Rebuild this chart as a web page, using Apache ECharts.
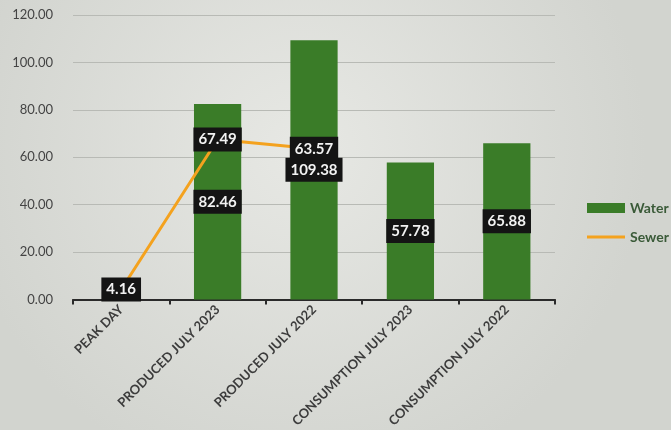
<!DOCTYPE html>
<html><head><meta charset="utf-8">
<script src="https://cdn.jsdelivr.net/npm/echarts@6/dist/echarts.min.js"></script>
<style>html,body{margin:0;padding:0;}#c{width:671px;height:430px;}</style>
</head><body><div id="c"></div>
<script>
const categories = ['PEAK DAY','PRODUCED JULY 2023','PRODUCED JULY 2022','CONSUMPTION JULY 2023','CONSUMPTION JULY 2022'];
const water = [null, 82.46, 109.38, 57.78, 65.88];
const sewer = [4.16, 67.49, 63.57, null, null];
const yTicks = [0, 20, 40, 60, 80, 100, 120];

const font = 'Lato, "Open Sans", sans-serif';
const labelBox = {
  show: true, position: 'inside', backgroundColor: '#141414', color: '#f2f2f2',
  fontFamily: font, fontWeight: 'bold', fontSize: 15, padding: [5, 5, 4, 5],
  formatter: p => p.value == null ? '' : p.value.toFixed(2)
};
const chart = echarts.init(document.getElementById('c'));
chart.setOption({
  backgroundColor: {type:'radial', x:0.45, y:0.35, r:0.8, colorStops:[{offset:0,color:'#e7e8e4'},{offset:1,color:'#d2d4cf'}]},
  animation: false,
  grid: {left: 73, right: 116, top: 15, bottom: 130},
  legend: {
    orient: 'vertical', left: 582, top: 196, itemGap: 15, itemWidth: 38, itemHeight: 10,
    textStyle: {color: '#3a5a38', fontFamily: font, fontWeight: 'bold', fontSize: 14},
    data: [{name:'Water', icon:'rect'}, {name:'Sewer', icon:'path://M0,4 L40,4 L40,7 L0,7 Z'}]
  },
  xAxis: {
    type: 'category', data: categories,
    axisLine: {lineStyle: {color: '#2a2a2a', width: 2}},
    axisTick: {show: true, alignWithLabel: false, length: 5, lineStyle: {color: '#2a2a2a', width: 2}},
    axisLabel: {rotate: 45, color: '#3c3c3c', fontFamily: font, fontWeight: 'bold', fontSize: 13, margin: 8}
  },
  yAxis: {
    type: 'value', min: 0, max: 120, interval: 20,
    axisLine: {show: false}, axisTick: {show: false},
    splitLine: {lineStyle: {color: '#b8bab5', width: 1}},
    axisLabel: {color: '#444', fontFamily: font, fontSize: 13, margin: 20, formatter: v => yTicks.includes(v) ? v.toFixed(2) : ''}
  },
  series: [
    {name: 'Water', type: 'bar', data: water.map(v => v == null ? '-' : v), barWidth: '49%',
     itemStyle: {color: '#3a7c28'}, label: labelBox, z: 2},
    {name: 'Sewer', type: 'line', data: sewer.map(v => v == null ? '-' : v),
     symbol: 'circle', symbolSize: 1, itemStyle: {color: '#f4a21e'},
     lineStyle: {color: '#f4a21e', width: 3}, label: labelBox, z: 5}
  ]
});
</script></body></html>
